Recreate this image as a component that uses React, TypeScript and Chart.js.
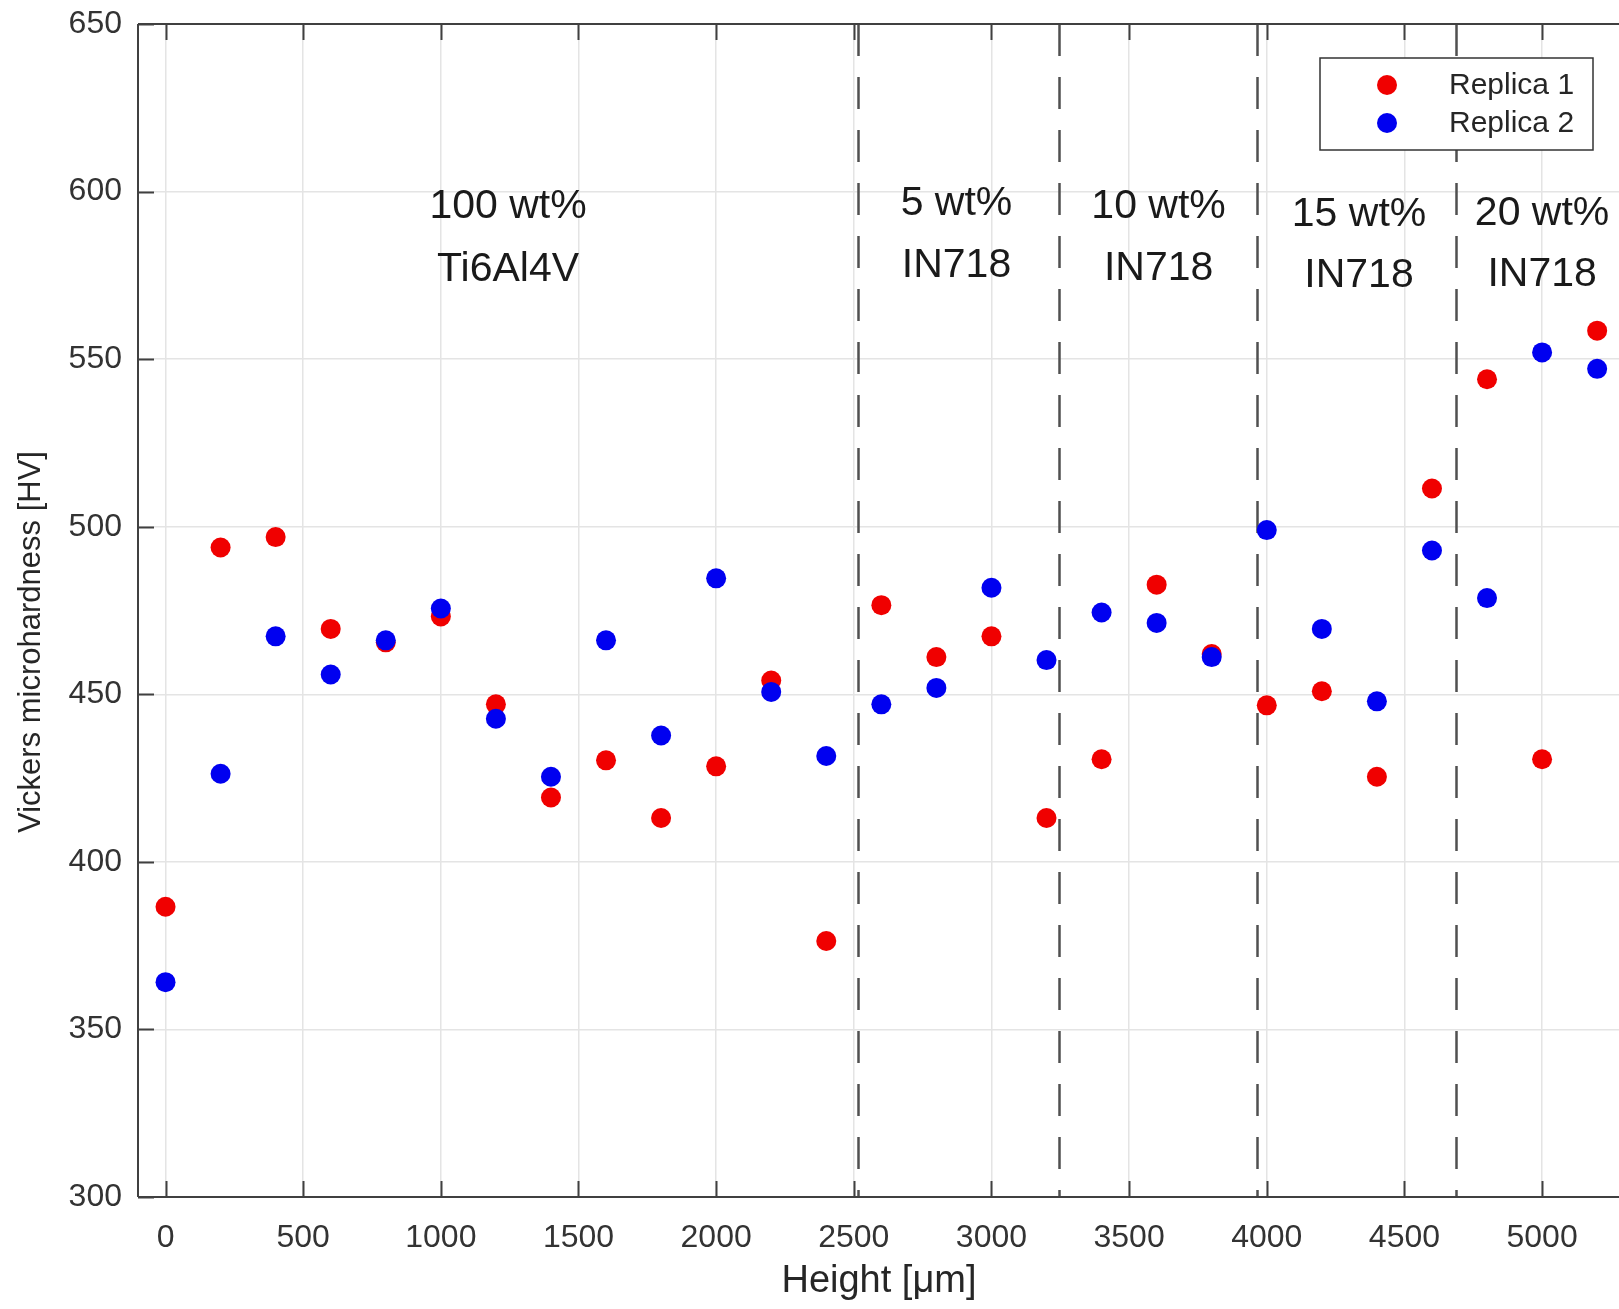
import { useEffect, useRef } from 'react';
import { Chart, registerables } from 'chart.js';

Chart.register(...registerables);

const heights = [0, 200, 400, 600, 800, 1000, 1200, 1400, 1600, 1800, 2000, 2200, 2400, 2600, 2800, 3000, 3200, 3400, 3600, 3800, 4000, 4200, 4400, 4600, 4800, 5000, 5200];
const replica1 = [386.6, 493.8, 496.9, 469.5, 465.5, 473.2, 447.0, 419.2, 430.3, 413.1, 428.5, 454.1, 376.4, 476.6, 461.1, 467.3, 413.1, 430.6, 482.7, 462.0, 446.7, 450.9, 425.4, 511.4, 544.0, 430.6, 558.5];
const replica2 = [364.1, 426.3, 467.3, 455.9, 466.1, 475.6, 442.7, 425.4, 466.1, 437.7, 484.6, 450.7, 431.6, 447.0, 451.9, 481.8, 460.2, 474.4, 471.3, 461.1, 499.0, 469.5, 447.9, 492.9, 478.7, 552.0, 547.1];
const seriesNames = ['Replica 1', 'Replica 2'];
const xTickValues = [0, 500, 1000, 1500, 2000, 2500, 3000, 3500, 4000, 4500, 5000];
const yTickValues = [300, 350, 400, 450, 500, 550, 600, 650];
const boundaries = [2515, 3245, 3965, 4687];
const regionTopLines = ['100 wt%', '5 wt%', '10 wt%', '15 wt%', '20 wt%'];
const regionBottomLines = ['Ti6Al4V', 'IN718', 'IN718', 'IN718', 'IN718'];
const regionX = [1244, 2873, 3607, 4335, 5000];
const regionTopY = [595.4, 596.3, 595.4, 593.0, 593.3];
const regionBottomY = [576.6, 577.8, 577.0, 574.8, 575.1];
const xTitle = 'Height [μm]';
const yTitle = 'Vickers microhardness [HV]';

const FONT = "'Liberation Sans', Arial, Helvetica, sans-serif";
const RED = '#f00000';
const BLUE = '#0000f0';

const overlay = {
  id: 'overlay',
  beforeDatasetsDraw(chart: any) {
    const { ctx, chartArea, scales } = chart;
    const xs = scales.x;
    const ys = scales.y;
    ctx.save();
    ctx.strokeStyle = '#505050';
    ctx.lineWidth = 2.5;
    ctx.setLineDash([32, 21]);
    boundaries.forEach((b) => {
      const px = Math.round(xs.getPixelForValue(b)) + 0.5;
      ctx.beginPath();
      ctx.moveTo(px, chartArea.top);
      ctx.lineTo(px, chartArea.bottom);
      ctx.stroke();
    });
    ctx.setLineDash([]);
    ctx.fillStyle = '#1a1a1a';
    ctx.font = `41px ${FONT}`;
    ctx.textAlign = 'center';
    ctx.textBaseline = 'middle';
    regionX.forEach((xv, i) => {
      const px = xs.getPixelForValue(xv);
      ctx.fillText(regionTopLines[i], px, ys.getPixelForValue(regionTopY[i]));
      ctx.fillText(regionBottomLines[i], px, ys.getPixelForValue(regionBottomY[i]));
    });
    ctx.restore();
  },
  afterDatasetsDraw(chart: any) {
    const { ctx, chartArea, scales } = chart;
    const xs = scales.x;
    const ys = scales.y;
    const { left, right, top, bottom } = chartArea;
    ctx.save();
    ctx.strokeStyle = '#404040';
    ctx.lineWidth = 2;
    ctx.beginPath();
    ctx.moveTo(left, top);
    ctx.lineTo(left, bottom);
    ctx.moveTo(left, bottom);
    ctx.lineTo(right, bottom);
    ctx.moveTo(left, top);
    ctx.lineTo(right, top);
    const tl = 16;
    xTickValues.forEach((v) => {
      const px = Math.round(xs.getPixelForValue(v)) + 0.5;
      ctx.moveTo(px, bottom);
      ctx.lineTo(px, bottom - tl);
      ctx.moveTo(px, top);
      ctx.lineTo(px, top + tl);
    });
    yTickValues.forEach((v) => {
      const py = Math.round(ys.getPixelForValue(v)) + 0.5;
      ctx.moveTo(left, py);
      ctx.lineTo(left + tl, py);
    });
    ctx.stroke();
    ctx.restore();
  },
  afterDraw(chart: any) {
    const { ctx, chartArea } = chart;
    ctx.save();
    ctx.fillStyle = '#262626';
    ctx.textAlign = 'center';
    ctx.textBaseline = 'middle';
    ctx.font = `38px ${FONT}`;
    ctx.fillText(xTitle, 879, 1282);
    ctx.save();
    ctx.translate(31, 642);
    ctx.rotate(-Math.PI / 2);
    ctx.font = `31px ${FONT}`;
    ctx.fillText(yTitle, 0, 0);
    ctx.restore();
    // legend
    const bx = 1320, by = 58, bw = 273, bh = 92;
    ctx.fillStyle = '#ffffff';
    ctx.fillRect(bx, by, bw, bh);
    ctx.strokeStyle = '#333333';
    ctx.lineWidth = 1.5;
    ctx.strokeRect(bx, by, bw, bh);
    const colors = [RED, BLUE];
    const rowsY = [85, 123];
    ctx.font = `30px ${FONT}`;
    ctx.textAlign = 'left';
    seriesNames.forEach((name, i) => {
      ctx.fillStyle = colors[i];
      ctx.beginPath();
      ctx.arc(1387, rowsY[i], 10, 0, Math.PI * 2);
      ctx.fill();
      ctx.fillStyle = '#262626';
      ctx.fillText(name, 1449, rowsY[i] + 1);
    });
    ctx.restore();
  },
};

export default function App() {
  const canvasRef = useRef<HTMLCanvasElement | null>(null);

  useEffect(() => {
    const canvas = canvasRef.current;
    if (!canvas) return;
    const chart = new Chart(canvas, {
      type: 'scatter',
      data: {
        datasets: [
          {
            label: seriesNames[0],
            data: heights.map((h, i) => ({ x: h, y: replica1[i] })),
            backgroundColor: RED,
            borderWidth: 0,
            pointRadius: 10,
            order: 2,
          },
          {
            label: seriesNames[1],
            data: heights.map((h, i) => ({ x: h, y: replica2[i] })),
            backgroundColor: BLUE,
            borderWidth: 0,
            pointRadius: 10,
            order: 1,
          },
        ],
      },
      options: {
        animation: false,
        responsive: false,
        devicePixelRatio: 1,
        layout: { padding: { top: 24, right: 0, left: 0, bottom: 0 } },
        plugins: {
          legend: { display: false },
          tooltip: { enabled: false },
        },
        scales: {
          x: {
            type: 'linear',
            position: 'bottom',
            min: -100,
            max: 5283,
            border: { display: false },
            grid: { color: '#e4e4e4', lineWidth: 1.5, drawTicks: false },
            ticks: {
              padding: 22,
              color: '#333333',
              font: { family: FONT, size: 32 },
              maxRotation: 0,
              autoSkip: false,
              callback: (v: any) => String(v),
            },
            afterBuildTicks: (scale: any) => {
              scale.ticks = xTickValues.map((v) => ({ value: v }));
            },
            afterFit: (scale: any) => {
              scale.height = 112;
              scale.paddingLeft = 0;
              scale.paddingRight = 0;
            },
          },
          y: {
            type: 'linear',
            min: 300,
            max: 650,
            border: { display: false },
            grid: { color: '#e4e4e4', lineWidth: 1.5, drawTicks: false },
            ticks: {
              padding: 16,
              color: '#333333',
              font: { family: FONT, size: 32 },
              callback: (v: any) => String(v),
            },
            afterBuildTicks: (scale: any) => {
              scale.ticks = yTickValues.map((v) => ({ value: v }));
            },
            afterFit: (scale: any) => {
              scale.width = 138;
              scale.paddingTop = 0;
              scale.paddingBottom = 0;
            },
          },
        },
      },
      plugins: [overlay],
    } as any);
    return () => chart.destroy();
  }, []);

  return (
    <div style={{ position: 'absolute', left: 0, top: 0, width: 1619, height: 1309, overflow: 'hidden', background: '#fff' }}>
      <canvas ref={canvasRef} width={1630} height={1309} style={{ display: 'block', width: 1630, height: 1309 }} />
    </div>
  );
}
